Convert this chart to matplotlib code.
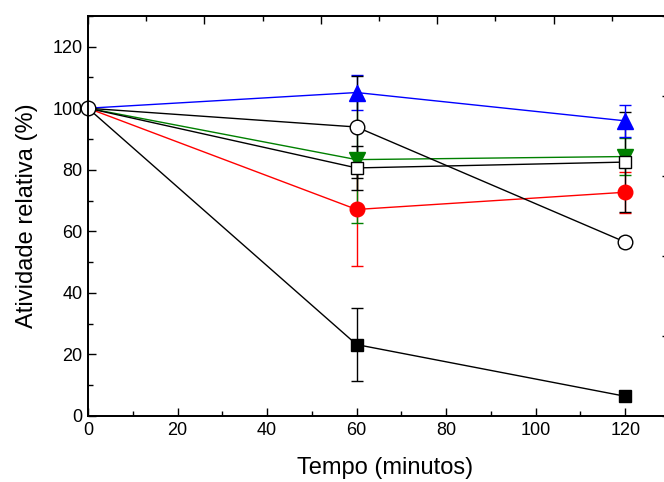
import matplotlib
matplotlib.use("Agg")
from matplotlib import pyplot as plt
from matplotlib.ticker import MultipleLocator, NullFormatter

plt.rcParams['font.family'] = ['Liberation Sans', 'DejaVu Sans']

tempo = [0, 60, 120]

# atividade relativa (%) e desvios
quad_cheio = [100, 23.2, 6.4]
quad_cheio_err = [0, 12.0, 0.8]
verm = [100, 67.1, 72.7]
verm_err = [0, 18.5, 6.6]
verde = [100, 83.3, 84.3]
verde_err = [0, 20.5, 6.0]
quad_vazio = [100, 80.6, 82.5]
quad_vazio_err = [0, 7.2, 16.3]
circ_vazio = [100, 93.9, 56.5]
circ_vazio_err = [0, 16.7, 1.6]
azul = [100, 105.1, 95.9]
azul_err = [0, 5.6, 5.3]

fig = plt.figure(figsize=(6.64, 4.82), dpi=100)
ax = fig.add_axes([0.1325, 0.137, 0.8765, 0.830])

series = [
    (quad_cheio, quad_cheio_err, 'black', 's', 'black', 9),
    (verm, verm_err, 'red', 'o', 'red', 10.5),
    (verde, verde_err, 'green', 'v', 'green', 11.5),
    (quad_vazio, quad_vazio_err, 'black', 's', 'white', 9),
    (azul, azul_err, 'blue', '^', 'blue', 11.5),
    (circ_vazio, circ_vazio_err, 'black', 'o', 'white', 10.5),
]
for i, (y, e, c, m, fc, ms) in enumerate(series):
    # so o circulo aberto aparece em t=0
    mk = None if i == len(series) - 1 else [1, 2]
    ax.errorbar(tempo, y, yerr=e, color=c, lw=1.0, marker=m, ms=ms,
                mfc=fc, mec=c, mew=1.0, capsize=4, capthick=1.0,
                elinewidth=1.0, clip_on=False, zorder=3, markevery=mk)

ax.set_xlim(0, 130)
ax.set_ylim(0, 130)
ax.set_xticks([0, 20, 40, 60, 80, 100, 120])
ax.set_yticks([0, 20, 40, 60, 80, 100, 120])
ax.xaxis.set_minor_locator(MultipleLocator(10))
ax.yaxis.set_minor_locator(MultipleLocator(10))
ax.tick_params(which='major', direction='in', length=6, width=1.0, labelsize=13, pad=4)
ax.tick_params(which='minor', direction='in', length=3.5, width=1.0)
for s in ax.spines.values():
    s.set_linewidth(1.1)

ax.set_xlabel('Tempo (minutos)', fontsize=17)
ax.xaxis.set_label_coords(0.51, -0.103)
ax.set_ylabel('Atividade relativa (%)', fontsize=17, labelpad=10)

# eixos de cima e da direita (sem rótulos)
ax_top = ax.twiny()
ax_top.set_xlim(0, 5)
ax_top.xaxis.set_major_locator(MultipleLocator(1))
ax_top.xaxis.set_minor_locator(MultipleLocator(0.5))
ax_top.xaxis.set_major_formatter(NullFormatter())
ax_top.tick_params(which='major', direction='in', length=6, width=1.0)
ax_top.tick_params(which='minor', direction='in', length=3.5, width=1.0)

ax_right = ax.twinx()
ax_right.set_ylim(0, 5)
ax_right.yaxis.set_major_locator(MultipleLocator(1))
ax_right.yaxis.set_minor_locator(MultipleLocator(0.5))
ax_right.yaxis.set_major_formatter(NullFormatter())
ax_right.tick_params(which='major', direction='in', length=6, width=1.0)
ax_right.tick_params(which='minor', direction='in', length=3.5, width=1.0)
for a in (ax_top, ax_right):
    for s in a.spines.values():
        s.set_linewidth(1.1)

fig.savefig('out.png', dpi=100)
